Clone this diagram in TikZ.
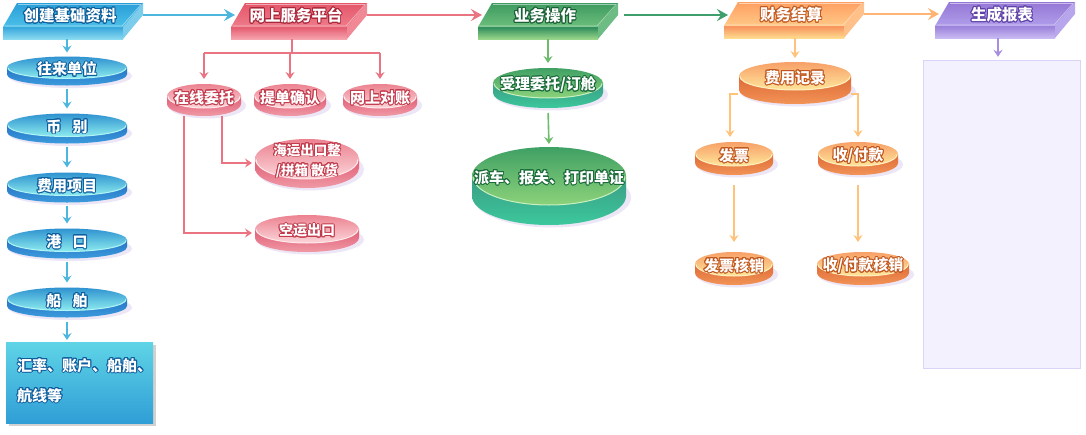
\documentclass[tikz,border=0pt]{standalone}
\usepackage{fontspec}
\setmainfont{Noto Sans CJK SC}
\usepackage[copies]{contour}
\contourlength{0.9pt}
\usetikzlibrary{arrows.meta,calc}

% header palettes
\definecolor{bhtopA}{HTML}{2A9ED8}\definecolor{bhtopB}{HTML}{4CC0E8}\definecolor{bhfrontA}{HTML}{36A6DC}\definecolor{bhfrontB}{HTML}{8ADAF0}\definecolor{bhside}{HTML}{7CCCEC}\definecolor{bhout}{HTML}{0B5C98}
\definecolor{rhtopA}{HTML}{E4566A}\definecolor{rhtopB}{HTML}{EE7C8A}\definecolor{rhfrontA}{HTML}{E45A6E}\definecolor{rhfrontB}{HTML}{F6A4AE}\definecolor{rhside}{HTML}{F08896}\definecolor{rhout}{HTML}{A82638}
\definecolor{ghtopA}{HTML}{3E9A60}\definecolor{ghtopB}{HTML}{6CBF7C}\definecolor{ghfrontA}{HTML}{2E8C5C}\definecolor{ghfrontB}{HTML}{9AD68A}\definecolor{ghside}{HTML}{6CBC84}\definecolor{ghout}{HTML}{1A5E36}
\definecolor{ohtopA}{HTML}{FF9F62}\definecolor{ohtopB}{HTML}{FFC987}\definecolor{ohfrontA}{HTML}{F6905A}\definecolor{ohfrontB}{HTML}{FFDC90}\definecolor{ohside}{HTML}{FFC08A}\definecolor{ohout}{HTML}{C05A20}
\definecolor{phtopA}{HTML}{9577D6}\definecolor{phtopB}{HTML}{B09EEA}\definecolor{phfrontA}{HTML}{9A80DA}\definecolor{phfrontB}{HTML}{C8BAF2}\definecolor{phside}{HTML}{B8A6EC}\definecolor{phout}{HTML}{5E40A8}
% disk palettes
\definecolor{bdtopA}{HTML}{2F92D0}\definecolor{bdtopB}{HTML}{8CECEE}\definecolor{bdrimA}{HTML}{2674C6}\definecolor{bdrimB}{HTML}{3C9CDC}\definecolor{bdedge}{HTML}{B0F4F4}\definecolor{bdout}{HTML}{0E5E9E}
\definecolor{rdtopA}{HTML}{EC8290}\definecolor{rdtopB}{HTML}{FBD6DA}\definecolor{rdrimA}{HTML}{DF5C74}\definecolor{rdrimB}{HTML}{F09AA6}\definecolor{rdedge}{HTML}{FFE8EA}\definecolor{rdout}{HTML}{C23A4C}
\definecolor{gdtopA}{HTML}{3FA064}\definecolor{gdtopB}{HTML}{8CD27A}\definecolor{gdrimA}{HTML}{3A9C84}\definecolor{gdrimB}{HTML}{3CC89C}\definecolor{gdedge}{HTML}{C8F0C0}\definecolor{gdout}{HTML}{1A6A3A}
\definecolor{odtopA}{HTML}{F7A068}\definecolor{odtopB}{HTML}{FFE69A}\definecolor{odrimA}{HTML}{DE6A36}\definecolor{odrimB}{HTML}{F29458}\definecolor{odedge}{HTML}{FFF0C0}\definecolor{odout}{HTML}{C0561E}
% connectors
\definecolor{cblue}{HTML}{4CB6DE}\definecolor{cred}{HTML}{EA7482}\definecolor{cgreen}{HTML}{3E9E6C}\definecolor{cgreenl}{HTML}{6CBC6C}
\definecolor{corange}{HTML}{FFB474}\definecolor{corangel}{HTML}{FFC27A}\definecolor{cpurple}{HTML}{A68EE2}
\definecolor{diskshadow}{HTML}{ECE6F6}
\definecolor{repfill}{HTML}{F4F1FE}\definecolor{repdraw}{HTML}{DAD4F8}
\definecolor{boxA}{HTML}{5FD4E6}\definecolor{boxB}{HTML}{2F9ED6}

\newcommand\Ot[1]{\contour{\oc}{#1}}

% name, x0, y0, W, palette, text
\newcommand\Header[6]{%
  \shade[top color=#5frontA, bottom color=#5frontB] (#2,-#3-24) rectangle (#2+#4-20,-#3-36);
  \fill[#5side] (#2+#4-20,-#3-24) -- (#2+#4,-#3) -- (#2+#4,-#3-12) -- (#2+#4-20,-#3-36) -- cycle;
  \shade[top color=#5topA, bottom color=#5topB] (#2+14,-#3) -- (#2+#4,-#3) -- (#2+#4-20,-#3-24) -- (#2,-#3-24) -- cycle;
  \draw[white,opacity=.5,line width=.6pt] (#2+15,-#3-1.5) -- (#2+#4-2,-#3-1.5) -- (#2+#4-21,-#3-23) -- (#2+1.5,-#3-23);
  \def\oc{#5out}%
  \node[headtext] (#1) at (#2+#4/2-3,-#3-13) {\Ot{#6}};
  \coordinate (#1-r) at (#2+#4,-#3-12);
  \coordinate (#1-l) at (#2+4,-#3-12);
  \coordinate (#1-b) at (#2+#4/2-10,-#3-36);
}

% name, cx, cy, rx, ry, t, palette, node options, text
\newcommand\Disk[9]{%
  \fill[diskshadow] (#2+3,-#3-#6-1.5) ellipse[x radius=#4+2, y radius=#5+1];
  \shade[top color=#7rimA, bottom color=#7rimB] (#2-#4,-#3) -- (#2-#4,-#3-#6) arc[start angle=180,end angle=360,x radius=#4,y radius=#5] -- (#2+#4,-#3) -- cycle;
  \shade[top color=#7topA, bottom color=#7topB] (#2,-#3) ellipse[x radius=#4, y radius=#5];
  \draw[#7edge, line width=1pt] (#2-#4+1,-#3-0.5) arc[start angle=180,end angle=360,x radius=#4-1,y radius=#5-0.5];
  \def\oc{#7out}%
  \coordinate (#1-t) at (#2,-#3+#5);
  \coordinate (#1-b) at (#2,-#3-#5-#6);
  \coordinate (#1-l) at (#2-#4-3,-#3-4);
  \node[disktext,#8] (#1) at (#2,-#3-2) {#9};
}

\begin{document}
\begin{tikzpicture}[x=1pt,y=1pt,
  headtext/.style={text=white,font=\bfseries\fontsize{15.5}{16}\selectfont,inner sep=0pt},
  disktext/.style={text=white,font=\bfseries\fontsize{15}{16}\selectfont,inner sep=0pt,align=center},
  headarr/.style={-{Stealth[length=11pt,width=12pt,inset=4pt]}, line width=2pt},
  smallarr/.style={-{Stealth[length=7pt,width=9pt,inset=2.5pt]}, line width=1.6pt},
  smallline/.style={line width=1.6pt},
]
\useasboundingbox (0,0) rectangle (1086,-434);
\fill[white] (0,0) rectangle (1086,-434);

% ---------- headers ----------
\Header{h1}{3}{3}{140}{bh}{创建基础资料}
\Header{h2}{231}{3}{136}{rh}{网上服务平台}
\Header{h3}{478}{3}{140}{gh}{业务操作}
\Header{h4}{724}{2}{140}{oh}{财务结算}
\Header{h5}{935}{2}{140}{ph}{生成报表}

\draw[headarr,cblue] (h1-r) -- (h2-l);
\draw[headarr,cred] (h2-r) -- (h3-l);
\draw[headarr,cgreen,shorten <=6pt] (h3-r) -- (h4-l |- h3-r);
\draw[headarr,corange] (h4-r) -- (h5-l);

% ---------- blue column ----------
\Disk{wl}{67}{67.5}{60}{11}{7}{bd}{}{\Ot{往来单位}}
\Disk{bb}{67}{125}{60}{11.5}{7}{bd}{}{\Ot{币\hspace{0.75em}别}}
\Disk{fx}{67}{184}{60}{11.5}{7}{bd}{}{\Ot{费用项目}}
\Disk{gk}{67}{240}{60}{11.5}{7}{bd}{}{\Ot{港\hspace{0.75em}口}}
\Disk{cb}{67}{299}{60}{11.5}{7}{bd}{}{\Ot{船\hspace{0.75em}舶}}

\fill[black!18] (9,-345) rectangle (156,-426);
\def\oc{bdout}
\shade[top color=boxA, bottom color=boxB] (6,-342) rectangle (153,-423);
\node[text=white,font=\bfseries\fontsize{15}{30}\selectfont,align=left,anchor=north west,inner sep=0pt] (hl) at (17,-358) {\Ot{汇率、账户、船舶、}\\\Ot{航线等}};
\coordinate (hl-t) at (67,-342);

\draw[smallarr,cblue,shorten >=4pt] (wl-t |- h1-b) -- (wl-t);
\draw[smallarr,cblue,shorten <=3pt,shorten >=5pt] (wl-b) -- (bb-t);
\draw[smallarr,cblue,shorten <=3pt,shorten >=5pt] (bb-b) -- (fx-t);
\draw[smallarr,cblue,shorten <=3pt,shorten >=5pt] (fx-b) -- (gk-t);
\draw[smallarr,cblue,shorten <=3pt,shorten >=5pt] (gk-b) -- (cb-t);
\draw[smallarr,cblue,shorten <=4pt,shorten >=2pt] (cb-b) -- (hl-t);

% ---------- red column ----------
\Disk{zx}{204}{96}{37}{12}{8}{rd}{}{\Ot{在线委托}}
\Disk{td}{290}{96}{36}{12}{8}{rd}{}{\Ot{提单确认}}
\Disk{wd}{380}{96}{37}{12}{8}{rd}{}{\Ot{网上对账}}
\Disk{hy}{307}{159}{52}{20}{9}{rd}{font=\bfseries\fontsize{13.5}{20}\selectfont}{\Ot{海运出口整}\\\Ot{/拼箱\ 散货}}
\Disk{ky}{307}{229}{52}{14}{9}{rd}{font=\bfseries\fontsize{14}{15}\selectfont}{\Ot{空运出口}}

\coordinate (rsplit) at (292,-53);
\draw[smallline,cred] (rsplit |- h2-b) -- (rsplit);
\draw[smallline,cred] (zx-t |- rsplit) -- (wd-t |- rsplit);
\draw[smallarr,cred,shorten >=5pt] (zx-t |- rsplit) -- (zx-t);
\draw[smallarr,cred,shorten >=5pt] (td-t |- rsplit) -- (td-t);
\draw[smallarr,cred,shorten >=5pt] (wd-t |- rsplit) -- (wd-t);
\draw[smallarr,cred] ($(zx-b)+(18,0)$) |- (hy-l);
\draw[smallarr,cred] ($(zx-b)+(-20,0)$) |- (ky-l);

% ---------- green column ----------
\Disk{sl}{548}{83}{55}{15}{10}{gd}{}{\Ot{受理委托/订舱}}
\Disk{pc}{549}{176}{77}{29}{20}{gd}{}{\Ot{派车、报关、打印单证}}
\draw[smallarr,cgreenl,shorten >=5pt] (sl-t |- h3-b) -- (sl-t);
\draw[smallarr,cgreenl,shorten <=5pt,shorten >=3pt] (sl-b) -- (pc-t);

% ---------- orange column ----------
\Disk{fy}{795}{76}{56}{14}{14}{od}{}{\Ot{费用记录}}
\Disk{fp}{734}{154}{39}{12}{9}{od}{}{\Ot{发票}}
\Disk{sf}{858}{154}{40}{12}{9}{od}{}{\Ot{收/付款}}
\Disk{fph}{734}{264}{39}{12}{9}{od}{}{\Ot{发票核销}}
\Disk{sfh}{863}{264}{46}{12}{9}{od}{}{\Ot{收/付款核销}}
\draw[smallarr,corangel,shorten >=4pt] (fy-t |- h4-b) -- (fy-t);
\draw[smallarr,corangel,shorten >=5pt] ($(fy)+(-57,-16)$) -| ($(fp-t)+(-4,0)$);
\draw[smallarr,corangel,shorten >=5pt] ($(fy)+(56,-16)$) -| (sf-t);
\draw[smallarr,corangel,shorten <=10pt,shorten >=10pt] (fp-b) -- (fph-t);
\draw[smallarr,corangel,shorten <=10pt,shorten >=10pt] (sf-b) -- (sf-b |- fph-t);

% ---------- purple ----------
\node[draw=repdraw,fill=repfill,minimum width=157pt,minimum height=308pt,inner sep=0pt] (rep) at (1001.5,-214) {};
\draw[smallarr,cpurple,line width=1.3pt,shorten >=3pt] (998,-39 |- h5-b) -- (998,-60 |- rep.north);
\end{tikzpicture}
\end{document}
